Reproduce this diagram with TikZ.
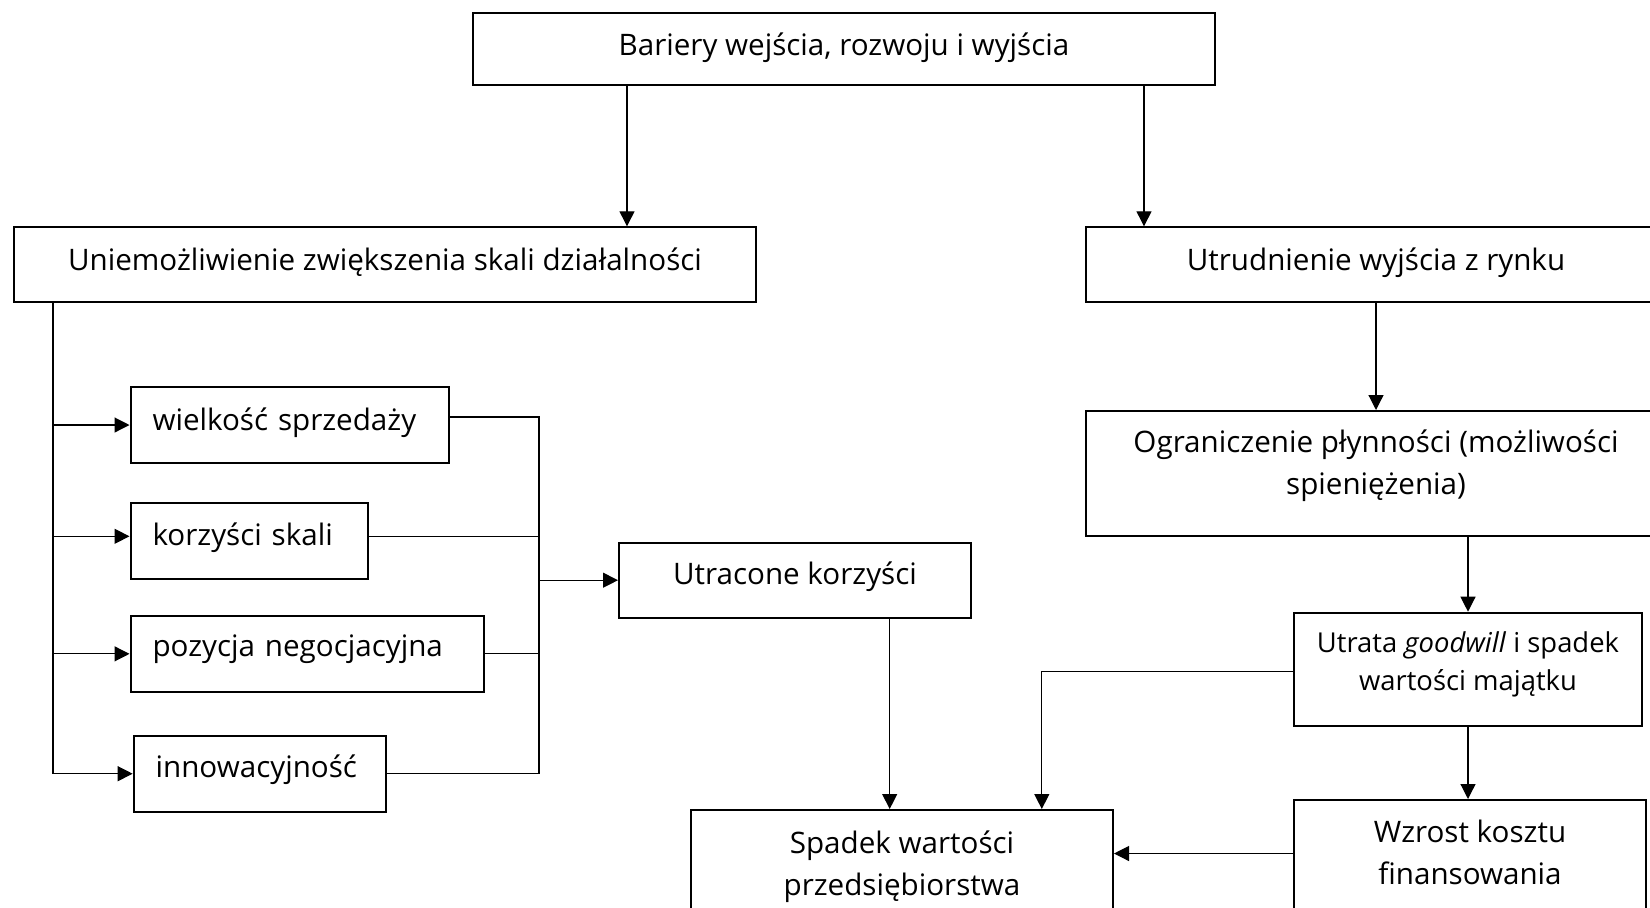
\documentclass[tikz,border=0pt]{standalone}
\usepackage{fontspec}
\setmainfont{Open Sans}
\usetikzlibrary{arrows.meta,calc}
\newcommand{\lowpad}[1]{\rule[-#1]{0pt}{#1}}
\begin{document}
\begin{tikzpicture}[x=0.5pt,y=-0.5pt,
  box/.style={draw, line width=1pt, inner sep=0pt, align=center, font=\fontsize{14.8}{21}\selectfont},
  smallbox/.style={box, align=left, inner xsep=11pt},
  conn/.style={line width=0.6pt},
  arr/.style={conn, -{Triangle[length=7.5pt,width=7.5pt]}}]
\useasboundingbox (0,0) rectangle (1650,907);
\clip (0,0) rectangle (1650,907);

\node[box, minimum width=371pt, minimum height=36pt] (top) at (844,48.7) {Bariery wejścia, rozwoju i wyjścia\lowpad{5pt}};
\node[box, minimum width=371pt, minimum height=37.5pt] (L) at (385,264.8) {Uniemożliwienie zwiększenia skali działalności\lowpad{6pt}};
\node[box, minimum width=290pt, minimum height=37.5pt] (R) at (1376,264.8) {Utrudnienie wyjścia z rynku\lowpad{6pt}};
\node[box, minimum width=290pt, minimum height=62.5pt] (ogr) at (1376,473.5) {Ograniczenie płynności (możliwości\\spieniężenia)\lowpad{11pt}};

\node[smallbox, text width=137.25pt, minimum height=37.7pt] (wiel) at (289.75,425) {wielkość sprzedaży\lowpad{6pt}};
\node[smallbox, text width=96.75pt, minimum height=38pt] (korz) at (249.25,541.3) {korzyści skali\lowpad{6.7pt}};
\node[smallbox, text width=154.5pt, minimum height=37.85pt] (poz) at (307,653.85) {pozycja negocjacyjna\lowpad{8pt}};
\node[smallbox, text width=104pt, minimum height=38pt] (inn) at (259.65,773.7) {innowacyjność\lowpad{7.7pt}};

\node[box, minimum width=176pt, minimum height=37.5pt] (utr) at (795,580.2) {Utracone korzyści\lowpad{7pt}};
\node[box, minimum width=174pt, minimum height=56.8pt, font=\fontsize{13.7}{19}\selectfont] (gw) at (1468,669.5) {Utrata \textit{goodwill} i spadek\\wartości majątku\lowpad{8pt}};
\node[box, minimum width=176pt, minimum height=57.5pt] (wz) at (1470,857.5) {Wzrost kosztu\\finansowania\lowpad{5pt}};
\node[box, minimum width=211pt, minimum height=57.5pt] (sp) at (902,867.5) {Spadek wartości\\przedsiębiorstwa\lowpad{4.5pt}};

% top level arrows
\coordinate (t1) at ([xshift=-108.5pt]top.south);
\coordinate (t2) at ([xshift=150pt]top.south);
\draw[arr] (t1) -- (t1 |- L.north);
\draw[arr] (t2) -- (t2 |- R.north);
\draw[arr] (R.south) -- (ogr.north);
\draw[arr] (gw.north |- ogr.south) -- (gw.north);
\draw[arr] (gw.south) -- (gw.south |- wz.north);
\coordinate (w1) at ([yshift=2pt]wz.west);
\draw[arr] (w1) -- (w1 -| sp.east);
\draw[arr] ([yshift=-1.1pt]gw.west) -| ([xshift=69.9pt]sp.north);
\coordinate (u1) at ([xshift=47.35pt]utr.south);
\draw[arr] (u1) -- (u1 |- sp.north);

% left bus
\coordinate (lb) at ([xshift=20pt]L.south west);
\draw[arr] (lb) |- (inn.west);
\draw[arr] (lb |- wiel.west) -- (wiel.west);
\draw[arr] (lb |- korz.west) ++(0,-5) -- ([yshift=2.5pt]korz.west);
\draw[arr] (lb |- poz.west) -- (poz.west);

% right bus
\coordinate (rb) at ([xshift=-39.5pt]utr.west);
\draw[conn] ([yshift=4pt]wiel.east) -| (rb |- inn.east) -- (inn.east);
\draw[conn] ([yshift=2.5pt]korz.east) -- ([yshift=2.5pt]korz.east -| rb);
\draw[conn] (poz.east) -- (poz.east -| rb);
\draw[arr] (rb) -- (utr.west);
\end{tikzpicture}
\end{document}
